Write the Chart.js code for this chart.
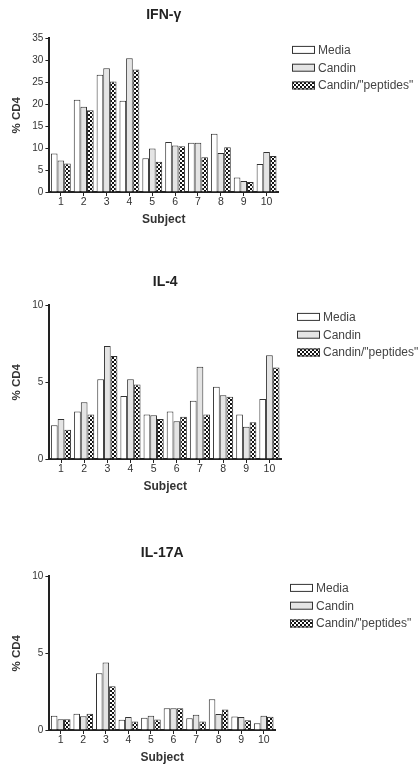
<!DOCTYPE html>
<html><head><meta charset="utf-8">
<script src="https://cdn.jsdelivr.net/npm/chart.js@4.4.0/dist/chart.umd.min.js"></script>
<style>
html,body{margin:0;padding:0;background:#fff;width:420px;height:766px;overflow:hidden;}
.panel{position:absolute;left:0;width:420px;height:230px;}
</style></head><body>
<div class="panel" style="top:0"><canvas id="c1"></canvas></div>
<div class="panel" style="top:267px"><canvas id="c2"></canvas></div>
<div class="panel" style="top:538px"><canvas id="c3"></canvas></div>
<script>
const subjects = ['1','2','3','4','5','6','7','8','9','10'];
const seriesNames = ['Media', 'Candin', 'Candin/"peptides"'];
const panelTitles = ['IFN-γ', 'IL-4', 'IL-17A'];
const yAxisTitle = '% CD4';
const xAxisTitle = 'Subject';

const ifngMedia    = [8.8, 21.0, 26.7, 20.8, 7.7, 11.4, 11.2, 13.3, 3.3, 6.4];
const ifngCandin   = [7.2, 19.4, 28.2, 30.5, 9.9, 10.6, 11.2, 8.9, 2.5, 9.1];
const ifngPeptides = [6.5, 18.6, 25.2, 27.9, 6.9, 10.4, 7.9, 10.2, 2.3, 8.2];

const il4Media    = [2.2, 3.1, 5.2, 4.1, 2.9, 3.1, 3.8, 4.7, 2.9, 3.9];
const il4Candin   = [2.6, 3.7, 7.35, 5.2, 2.85, 2.45, 6.0, 4.15, 2.1, 6.75];
const il4Peptides = [1.9, 2.9, 6.7, 4.85, 2.6, 2.75, 2.9, 4.05, 2.4, 5.95];

const il17Media    = [0.93, 1.06, 3.7, 0.66, 0.8, 1.42, 0.77, 2.0, 0.88, 0.44];
const il17Candin   = [0.7, 0.9, 4.4, 0.84, 0.93, 1.42, 1.0, 1.04, 0.84, 0.93];
const il17Peptides = [0.7, 1.06, 2.85, 0.55, 0.69, 1.42, 0.55, 1.33, 0.64, 0.86];

const yMaxes = [35, 10, 10];
const ySteps = [5, 5, 5];

function makePattern() {
  const p = document.createElement('canvas');
  p.width = 4; p.height = 4;
  const g = p.getContext('2d');
  g.fillStyle = '#111'; g.fillRect(0, 0, 4, 4);
  g.fillStyle = '#fff';
  g.fillRect(0, 0, 2, 2); g.fillRect(2, 2, 2, 2);
  return g.createPattern(p, 'repeat');
}
const checker = makePattern();

const FONT = '"Liberation Sans", Arial, sans-serif';

// Legend drawn to the right of the chart area, top-aligned (built-in legend is width-capped)
const sideLegend = {
  id: 'sideLegend',
  afterDraw(chart, args, opts) {
    const ctx = chart.ctx;
    const area = chart.chartArea;
    const x0 = area.right + opts.dx;
    let y = area.top + opts.dy;
    ctx.save();
    ctx.font = '12px ' + FONT;
    ctx.textBaseline = 'middle';
    ctx.textAlign = 'left';
    chart.data.datasets.forEach(ds => {
      ctx.fillStyle = ds.backgroundColor;
      ctx.fillRect(x0, y - 4, 23, 8);
      ctx.strokeStyle = '#333';
      ctx.lineWidth = 1;
      ctx.strokeRect(x0 + 0.5, y - 3.5, 22, 7);
      ctx.fillStyle = '#444';
      ctx.fillText(ds.label, x0 + 26, y + 0.5);
      y += 17.8;
    });
    ctx.restore();
  }
};

function build(id, idx, media, candin, pep, padRight, dx) {
  const fills = ['#ffffff', '#e4e4e4', checker];
  const vals = [media, candin, pep];
  new Chart(document.getElementById(id), {
    type: 'bar',
    data: {
      labels: subjects,
      datasets: seriesNames.map((n, i) => ({
        label: n,
        data: vals[i],
        backgroundColor: fills[i],
        borderColor: '#333',
        borderWidth: 1,
        categoryPercentage: 0.87,
        barPercentage: 1.0
      }))
    },
    plugins: [sideLegend],
    options: {
      responsive: true,
      maintainAspectRatio: false,
      animation: false,
      devicePixelRatio: 1,
      layout: { padding: { left: 4, right: padRight, top: 0, bottom: 0 } },
      plugins: {
        title: {
          display: true, text: panelTitles[idx], fullSize: false,
          color: '#222', font: { family: FONT, size: 14, weight: 'bold' },
          padding: { top: 7, bottom: 14.6 }
        },
        legend: { display: false },
        sideLegend: { dx: dx, dy: 11.5 },
        tooltip: { enabled: false }
      },
      scales: {
        x: {
          grid: { display: true, drawOnChartArea: false, offset: false, tickLength: 4, color: '#222', lineWidth: 1 },
          border: { display: true, color: '#222', width: 2 },
          ticks: { color: '#333', font: { family: FONT, size: 10.5 }, padding: 0, maxRotation: 0 },
          title: { display: true, text: xAxisTitle, color: '#333', font: { family: FONT, size: 12, weight: 'bold' }, padding: { top: 4, bottom: 3 } }
        },
        y: {
          min: 0, max: yMaxes[idx],
          grid: { display: true, drawOnChartArea: false, tickLength: 4, color: '#222', lineWidth: 1 },
          border: { display: true, color: '#222', width: 2 },
          ticks: { stepSize: ySteps[idx], color: '#333', font: { family: FONT, size: 10 }, padding: 2 },
          title: { display: true, text: yAxisTitle, color: '#333', font: { family: FONT, size: 11.5, weight: 'bold' }, padding: { top: 5.5, bottom: 7 } }
        }
      }
    }
  });
}

build('c1', 0, ifngMedia, ifngCandin, ifngPeptides, 142, 14);
build('c2', 1, il4Media, il4Candin, il4Peptides, 139, 16);
build('c3', 2, il17Media, il17Candin, il17Peptides, 145, 15);
</script>
</body></html>
